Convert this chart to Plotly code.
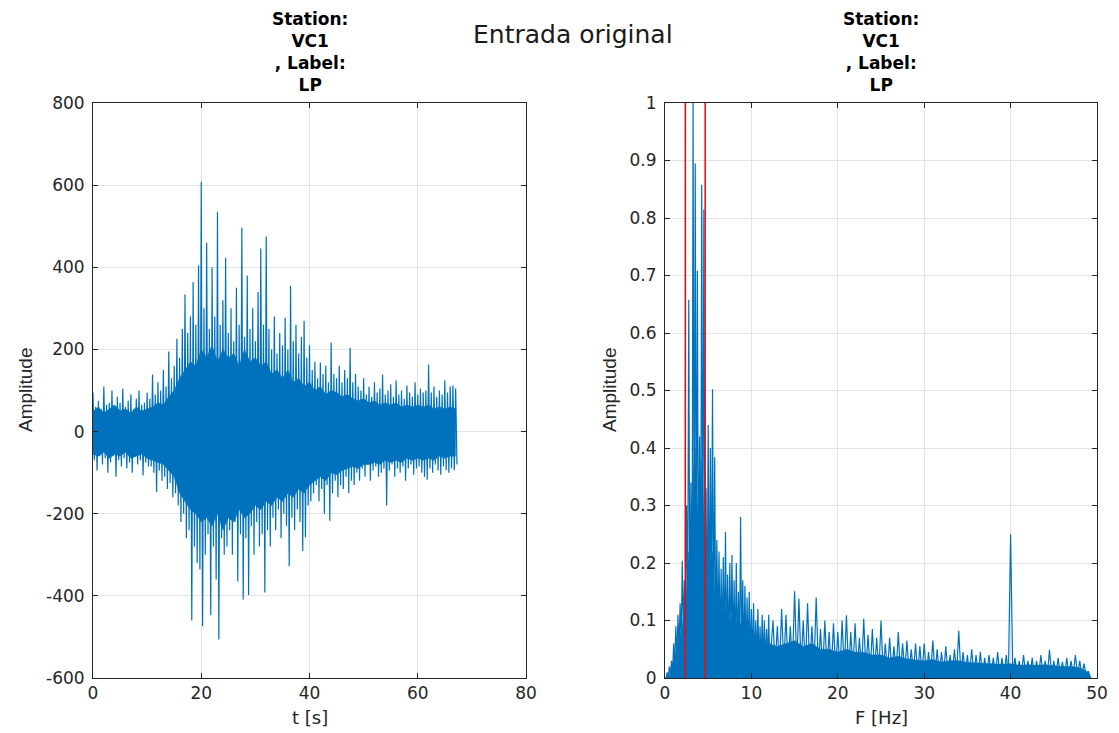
import numpy as np
import plotly.graph_objects as go

# ---------------- data ----------------
# Time series: alternating local maxima / minima, every 0.5 s from t = 0 to 67 s
wave_hi = [95, 60, 75, 55, 110, 65, 70, 100, 60, 85, 70, 105, 60, 75, 90, 55, 80, 100, 65, 70, 95,
           80, 139, 90, 120, 100, 150, 110, 195, 130, 160,
           226, 180, 250, 334, 240, 280, 364, 260, 405, 608,
           300, 460, 250, 400, 280, 535, 260, 320,
           423, 240, 300, 220, 350, 260, 496, 230, 380, 250, 300, 220, 340, 446, 260, 475,
           250, 200, 280, 190, 240, 210, 277, 200, 355, 220, 260, 190, 230, 270, 180, 210,
           150, 170, 130, 168, 140, 160, 120, 217, 140, 130, 160, 120, 150, 130, 204, 120, 140, 110,
           100, 130, 90, 110, 85, 120, 95, 105, 139, 90, 100, 115, 85, 125, 90, 100, 80, 112, 95, 85,
           120, 90, 105, 95,
           100, 163, 95, 110, 85, 100, 90, 125, 95, 110, 112, 105]
wave_lo = [-70, -95, -60, -80, -65, -100, -75, -60, -110, -70, -85, -65, -90, -75, -100, -60, -80, -70, -107, -75, -85,
           -85, -100, -148, -95, -120, -110, -140, -125, -160, -150,
           -180, -220, -200, -260, -240, -460, -280, -320, -336, -474,
           -300, -250, -447, -280, -360, -506, -260, -300,
           -280, -240, -300, -220, -365, -250, -409, -260, -398, -230, -300, -220, -280, -250, -392, -240,
           -280, -210, -240, -190, -260, -200, -230, -328, -210, -240, -190, -220, -291, -258, -180, -170,
           -150, -130, -170, -140, -200, -130, -217, -150, -120, -160, -130, -140, -110, -150, -120, -130, -100, -120,
           -90, -110, -80, -120, -95, -85, -110, -100, -90, -180, -95, -80, -110, -90, -100, -85, -120, -90, -80, -105,
           -90, -85, -100, -110,
           -117, -90, -100, -80, -95, -105, -85, -94, -100, -90, -94, -80]
wave_step = 0.5

# Dense core of the time series (solid band), every 1 s from 0 to 67 s
core_hi = [50, 60, 45, 55, 65, 50, 55, 45, 60, 50, 55,
           60, 70, 65, 85, 100,
           130, 150, 170, 160, 200,
           180, 210, 170, 200, 180,
           190, 160, 200, 170, 180,
           160, 170, 140, 150, 130,
           150, 120, 130, 110, 120,
           100, 110, 90, 100, 95,
           85, 90, 80, 75, 80,
           70, 75, 65, 70, 65,
           70, 60, 65, 60, 65,
           60, 65, 55, 60, 55, 60, 55]
core_lo = [-55, -60, -50, -65, -55, -60, -50, -65, -60, -55, -65,
           -70, -75, -80, -95, -110,
           -150, -170, -190, -200, -220,
           -210, -230, -200, -240, -210,
           -220, -190, -210, -200, -180,
           -190, -170, -180, -160, -170,
           -150, -160, -140, -150, -130,
           -120, -110, -120, -100, -105,
           -95, -90, -85, -90, -80,
           -80, -75, -80, -70, -75,
           -70, -75, -65, -70, -65,
           -70, -65, -70, -60, -65, -60, -60]
core_step = 1.0

# Spectrum: local maxima / minima, 0.25 Hz steps up to 12 Hz, then 0.5 Hz steps to 49 Hz
spec_hi = [0.0, 0.01, 0.02, 0.03, 0.06, 0.09, 0.11, 0.13, 0.204, 0.17, 0.30, 0.658, 0.34,
           1.0, 0.895, 0.708, 0.42, 0.858, 0.815, 0.33, 0.44, 0.40, 0.502, 0.384, 0.24,
           0.22, 0.19, 0.21, 0.254, 0.18, 0.2, 0.214, 0.17, 0.2, 0.15, 0.28, 0.17, 0.16,
           0.14, 0.15, 0.12, 0.13, 0.1, 0.12, 0.09, 0.11, 0.1, 0.085, 0.11,
           0.1, 0.09, 0.12, 0.11, 0.09, 0.151, 0.138, 0.1, 0.13, 0.09, 0.14, 0.085, 0.1,
           0.08, 0.095, 0.08, 0.1, 0.109, 0.08, 0.095, 0.07, 0.103, 0.075, 0.085, 0.07,
           0.1, 0.06, 0.07, 0.055, 0.08, 0.06, 0.065, 0.05, 0.06, 0.055, 0.06, 0.045,
           0.065, 0.05, 0.045, 0.055, 0.04, 0.05, 0.082, 0.045, 0.04, 0.05, 0.04, 0.045,
           0.035, 0.04, 0.035, 0.045, 0.035, 0.04, 0.25, 0.035, 0.03, 0.04, 0.03, 0.035,
           0.03, 0.04, 0.03, 0.049, 0.03, 0.035, 0.028, 0.035, 0.03, 0.04, 0.03, 0.025, 0.012]
spec_lo = [0.0, 0.0, 0.005, 0.01, 0.02, 0.03, 0.05, 0.06, 0.08, 0.1, 0.12, 0.07, 0.05,
           0.12, 0.15, 0.12, 0.1, 0.13, 0.1, 0.09, 0.08, 0.1, 0.07, 0.06, 0.07,
           0.05, 0.06, 0.04, 0.05, 0.04, 0.05, 0.04, 0.035, 0.04, 0.03, 0.04, 0.03, 0.035,
           0.03, 0.025, 0.03, 0.02, 0.03, 0.02, 0.025, 0.02, 0.02, 0.025, 0.02,
           0.02, 0.015, 0.02, 0.015, 0.02, 0.015, 0.02, 0.015, 0.015, 0.02, 0.015, 0.01, 0.015,
           0.01, 0.015, 0.01, 0.012, 0.01, 0.012, 0.01, 0.01, 0.012, 0.01, 0.01, 0.008,
           0.01, 0.008, 0.01, 0.008, 0.008, 0.01, 0.008, 0.008, 0.006, 0.008, 0.006, 0.008,
           0.006, 0.006, 0.008, 0.006, 0.006, 0.008, 0.006, 0.006, 0.006, 0.005, 0.006, 0.005,
           0.006, 0.005, 0.005, 0.006, 0.005, 0.005, 0.005, 0.005, 0.006, 0.005, 0.005, 0.005,
           0.005, 0.005, 0.004, 0.005, 0.004, 0.005, 0.004, 0.004, 0.005, 0.004, 0.004, 0.003, 0.0]
spec_freq_a = np.arange(0, 12.001, 0.25)
spec_freq_b = np.arange(12.5, 49.001, 0.5)

# Dense core of the spectrum (solid band)
spec_core_f = [0, 0.5, 1, 1.5, 2, 2.25, 2.5, 2.75, 3, 3.25, 3.5, 3.75, 4, 4.25, 4.5, 4.75, 5,
               5.25, 5.5, 5.75, 6, 6.5, 7, 7.5, 8, 8.5, 9, 9.5, 10,
               11, 12, 13, 14, 15, 16, 17, 18, 19, 20, 21, 22, 23, 24, 25, 26, 27, 28, 29, 30,
               31, 32, 33, 34, 35, 36, 37, 38, 39, 40, 41, 42, 43, 44, 45, 46, 47, 48, 49, 49.3]
spec_core = [0, 0.005, 0.03, 0.06, 0.09, 0.12, 0.16, 0.22, 0.2, 0.35, 0.4, 0.3, 0.25, 0.38, 0.3,
             0.2, 0.25, 0.2, 0.22, 0.15, 0.13, 0.11, 0.12, 0.1, 0.11, 0.09, 0.1, 0.08, 0.07,
             0.065, 0.06, 0.055, 0.06, 0.065, 0.055, 0.06, 0.05, 0.05, 0.045, 0.05, 0.045, 0.045,
             0.04, 0.04, 0.035, 0.038, 0.033, 0.032, 0.03, 0.032, 0.028, 0.03, 0.03, 0.027,
             0.026, 0.025, 0.025, 0.024, 0.025, 0.022, 0.023, 0.022, 0.023, 0.021, 0.02, 0.02,
             0.018, 0.01, 0]

band_edges = [2.35, 4.65]          # red vertical lines [Hz]

t_ticks = [0, 20, 40, 60, 80]
amp_ticks = [-600, -400, -200, 0, 200, 400, 600, 800]
amp_labels = ["-600", "-400", "-200", "0", "200", "400", "600", "800"]
f_ticks = [0, 10, 20, 30, 40, 50]
spec_ticks = [round(0.1 * k, 1) for k in range(11)]
spec_labels = ["0", "0.1", "0.2", "0.3", "0.4", "0.5", "0.6", "0.7", "0.8", "0.9", "1"]

title_text = "Station:<br>VC1<br>, Label:<br>LP"
suptitle = "Entrada original"

# ---------------- build zig-zag traces ----------------
def zigzag(x0, steps, hi, lo):
    xs, ys = [], []
    for x, s, h, l in zip(x0, steps, hi, lo):
        xs += [float(x), float(x) + s / 2]
        ys += [h, l]
    return xs, ys

n_w = min(len(wave_hi), len(wave_lo))
t0 = np.arange(n_w) * wave_step
tx, ty = zigzag(t0, [wave_step] * n_w, wave_hi[:n_w], wave_lo[:n_w])

n_c = min(len(core_hi), len(core_lo))
core_t = np.arange(n_c) * core_step

freq = np.concatenate([spec_freq_a, spec_freq_b])
fsteps = [0.25] * len(spec_freq_a) + [0.5] * len(spec_freq_b)
n_s = min(len(freq), len(spec_hi), len(spec_lo))
fx, fy = zigzag(freq[:n_s], fsteps[:n_s], spec_hi[:n_s], spec_lo[:n_s])

n_sc = min(len(spec_core_f), len(spec_core))

W, H = 1119, 733
BLUE = "#0072BD"
AX = "#262626"
GRID = "#e3e3e3"

fig = go.Figure()
# time series core band
fig.add_trace(go.Scatter(x=core_t, y=core_lo[:n_c], mode="lines", line=dict(color=BLUE, width=0.5),
                         xaxis="x", yaxis="y", showlegend=False, hoverinfo="skip"))
fig.add_trace(go.Scatter(x=core_t, y=core_hi[:n_c], mode="lines", line=dict(color=BLUE, width=0.5),
                         fill="tonexty", fillcolor=BLUE,
                         xaxis="x", yaxis="y", showlegend=False, hoverinfo="skip"))
fig.add_trace(go.Scatter(x=tx, y=ty, mode="lines", line=dict(color=BLUE, width=1.2),
                         xaxis="x", yaxis="y", showlegend=False, hoverinfo="skip"))
# spectrum core band
fig.add_trace(go.Scatter(x=spec_core_f[:n_sc], y=spec_core[:n_sc], mode="lines",
                         line=dict(color=BLUE, width=0.5), fill="tozeroy", fillcolor=BLUE,
                         xaxis="x2", yaxis="y2", showlegend=False, hoverinfo="skip"))
fig.add_trace(go.Scatter(x=fx, y=fy, mode="lines", line=dict(color=BLUE, width=1.2),
                         xaxis="x2", yaxis="y2", showlegend=False, hoverinfo="skip"))
for b in band_edges:
    fig.add_trace(go.Scatter(x=[b, b], y=[0, 1], mode="lines", line=dict(color="#ff0000", width=1.5),
                             xaxis="x2", yaxis="y2", showlegend=False, hoverinfo="skip"))

tickfont = dict(family="DejaVu Sans", size=17, color=AX)
common = dict(showline=True, linecolor=AX, linewidth=1, mirror="ticks", ticks="inside",
              ticklen=5, tickcolor=AX, tickwidth=1, showgrid=True, gridcolor=GRID, gridwidth=1,
              zeroline=False, tickfont=tickfont, automargin=False)

xl0, xl1 = 93 / W, 526 / W
xr0, xr1 = 665 / W, 1097 / W
yb, yt = (H - 678) / H, (H - 103) / H

fig.update_layout(
    width=W, height=H, margin=dict(l=0, r=0, t=0, b=0, pad=0, autoexpand=False),
    paper_bgcolor="white", plot_bgcolor="white",
    xaxis=dict(domain=[xl0, xl1], range=[0, 80], tickvals=t_ticks, anchor="y", **common),
    yaxis=dict(domain=[yb, yt], range=[-600, 800], tickvals=amp_ticks, ticktext=amp_labels,
               anchor="x", ticklabelstandoff=4, **common),
    xaxis2=dict(domain=[xr0, xr1], range=[0, 50], tickvals=f_ticks, anchor="y2", **common),
    yaxis2=dict(domain=[yb, yt], range=[0, 1], tickvals=spec_ticks, ticktext=spec_labels,
                anchor="x2", ticklabelstandoff=4, **common),
)

ann = []
ann.append(dict(text=suptitle, x=573 / W, y=(H - 35) / H, xref="paper", yref="paper",
                xanchor="center", yanchor="middle",
                showarrow=False, font=dict(family="DejaVu Sans", size=25, color="#1a1a1a")))
for cx in [(93 + 526) / 2, (665 + 1097) / 2]:
    ann.append(dict(text="<b>" + title_text + "</b>", x=cx / W, y=(H - 97) / H, xref="paper", yref="paper",
                    xanchor="center", yanchor="bottom", showarrow=False, align="center",
                    font=dict(family="DejaVu Sans", size=17, color="#000000")))
ann.append(dict(text="t [s]", x=310 / W, y=(H - 717) / H, xref="paper", yref="paper", showarrow=False,
                xanchor="center", yanchor="middle",
                font=dict(family="DejaVu Sans", size=18, color=AX)))
ann.append(dict(text="F [Hz]", x=881 / W, y=(H - 717) / H, xref="paper", yref="paper", showarrow=False,
                xanchor="center", yanchor="middle",
                font=dict(family="DejaVu Sans", size=18, color=AX)))
for ax_x in [25, 609]:
    ann.append(dict(text="Amplitude", x=ax_x / W, y=(H - 390) / H, xref="paper", yref="paper",
                    showarrow=False, textangle=-90, xanchor="center", yanchor="middle",
                    font=dict(family="Liberation Sans Narrow, Liberation Sans, Arial", size=19, color=AX)))
fig.update_layout(annotations=ann)

fig.write_html("out.html", config={"displayModeBar": False},
               post_script="document.body.style.margin='0px';")
